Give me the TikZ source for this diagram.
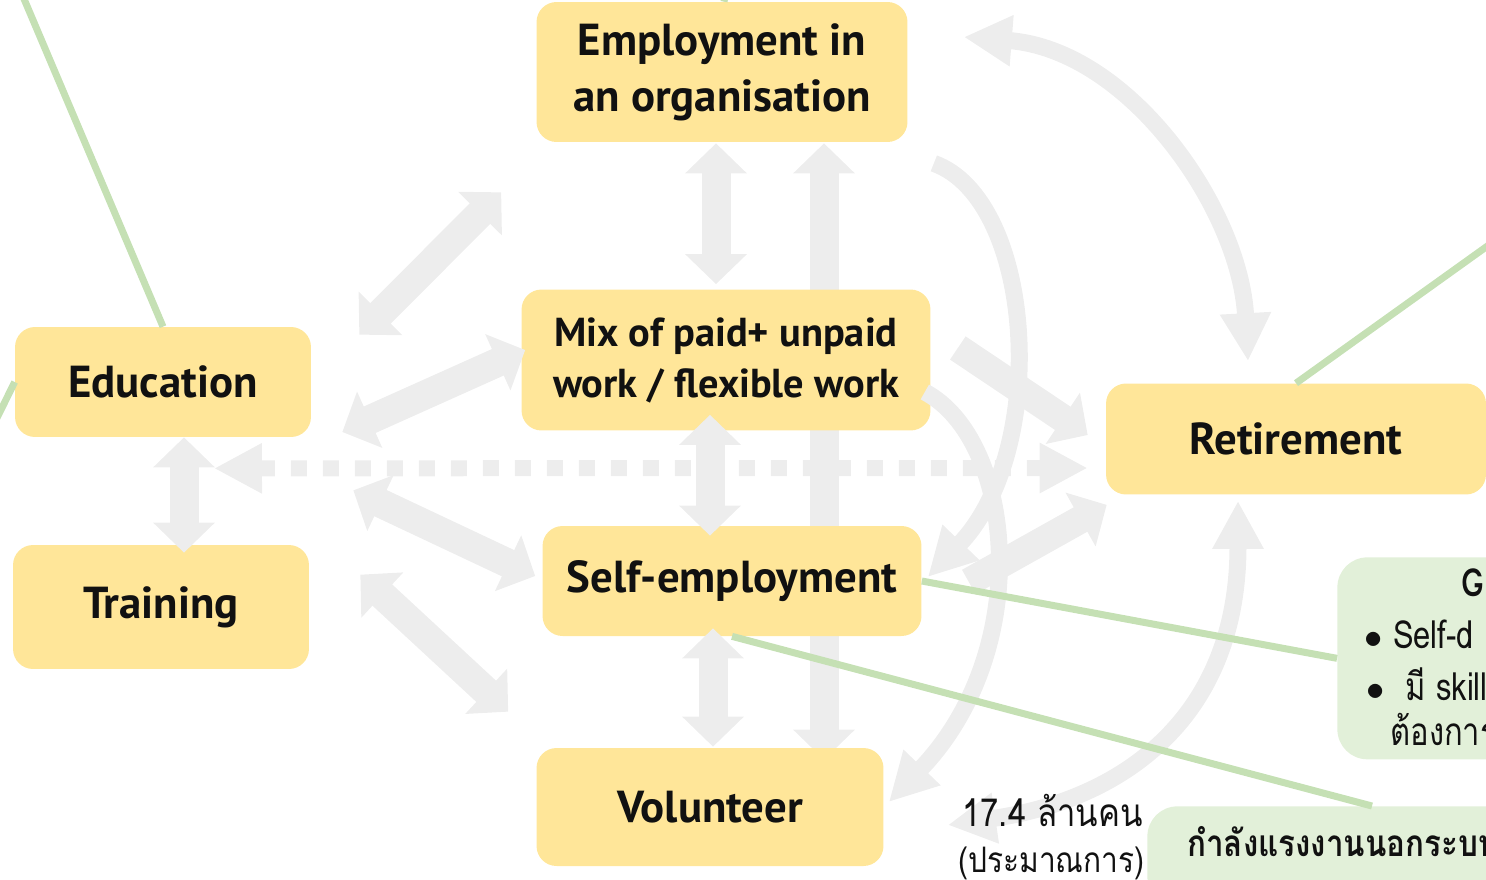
\documentclass[tikz,border=0pt]{standalone}
\usepackage{fontspec}
\setmainfont{PT Sans}
\newfontfamily\thaifont[Script=Thai, FakeStretch=0.85]{Loma}
\newfontfamily\thainote[Script=Thai, FakeStretch=0.8]{Loma}
\usetikzlibrary{arrows.meta,calc,backgrounds}

\definecolor{boxyellow}{HTML}{FFE699}
\definecolor{flowgray}{HTML}{EDEDED}
\definecolor{linkgreen}{HTML}{C5E0B4}
\definecolor{notegreen}{HTML}{E2F0D9}
\definecolor{inkblack}{HTML}{111111}

\tikzset{
  stage/.style={rounded corners=0.4cm, fill=boxyellow, text=inkblack, align=center,
    inner sep=0pt, font=\fontsize{25.5}{32}\selectfont\bfseries},
  note/.style={rounded corners=0.6cm, fill=notegreen, inner sep=0pt},
  notetext/.style={inner sep=0pt, text=inkblack, font=\thainote\fontsize{22}{26}\selectfont},
  blockarrow/.style={draw=flowgray, line width=0.58cm,
    {Triangle[width=1.2cm,length=0.6cm]}-{Triangle[width=1.2cm,length=0.6cm]}},
  blockto/.style={draw=flowgray, line width=0.56cm, -{Triangle[width=1.2cm,length=0.6cm]}},
  bendarrow/.style={draw=flowgray, line width=0.34cm,
    {Triangle[width=0.96cm,length=0.96cm]}-{Triangle[width=0.96cm,length=0.96cm]}},
  bendto/.style={draw=flowgray, line width=0.34cm, -{Triangle[width=0.96cm,length=0.96cm]}},
  dotarrow/.style={draw=flowgray, line width=0.32cm, dash pattern=on 0.32cm off 0.32cm,
    {Triangle[width=0.94cm,length=0.96cm]}-{Triangle[width=0.94cm,length=0.96cm]}},
  link/.style={draw=linkgreen, line width=0.14cm}
}

\begin{document}
\begin{tikzpicture}[x=0.02cm, y=-0.02cm]
    \useasboundingbox (0,0) rectangle (1486,879);
    \clip (0,0) rectangle (1486,879);

    % stages
    \node[stage, minimum width=7.42cm, minimum height=2.80cm] (emp) at (722,72) {Employment in\\an organisation};
    \node[stage, minimum width=8.18cm, minimum height=2.82cm, font=\fontsize{23}{29}\selectfont\bfseries] (mix) at (726,360) {Mix of paid+ unpaid\\work / flexible work};
    \node[stage, minimum width=7.58cm, minimum height=2.20cm] (self) at (732,581) {Self-employment};
    \node[stage, minimum width=6.94cm, minimum height=2.36cm] (vol) at (710,807) {Volunteer};
    \node[stage, minimum width=5.92cm, minimum height=2.20cm] (edu) at (163,382) {Education};
    \node[stage, minimum width=5.92cm, minimum height=2.48cm] (train) at (161,607) {Training};
    \node[stage, minimum width=7.60cm, minimum height=2.22cm] (retire) at (1296,439) {Retirement};

    \node[note, minimum width=5.6cm, minimum height=4.04cm, anchor=north west] (gone) at (1337,557) {};
    \node[note, minimum width=8.0cm, minimum height=2.0cm, anchor=north west] (gtwo) at (1147,806) {};

    \begin{scope}[on background layer]
        \draw[blockarrow] ($(emp.south)+(102,1)$) -- ($(vol.north)+(114,12)$);
    \end{scope}

    % two-way arrows
    \draw[blockarrow] ($(emp.south)+(-6,1)$) -- ($(mix.north)+(-10,-5)$);
    \draw[blockarrow] ($(mix.south)+(-16,-16)$) -- ($(self.north)+(-22,10)$);
    \draw[blockarrow] ($(self.south)+(-19,-8)$) -- ($(vol.north)+(3,-1)$);
    \draw[blockarrow] ($(edu.south)+(21,0)$) -- ($(train.north)+(23,8)$);
    \draw[blockarrow] ($(edu.north east)+(48,8)$) -- ($(emp.south west)+(-35,50)$);
    \draw[blockarrow] ($(edu.east)+(31,50)$) -- ($(mix.west)+(4,-10)$);
    \draw[blockarrow] ($(edu.south east)+(42,53)$) -- ($(self.west)+(-7,-5)$);
    \draw[blockarrow] ($(train.north east)+(51,30)$) -- ($(vol.north west)+(-28,-36)$);

    \draw[dotarrow] ($(edu.south)+(51,31)$) -- ($(retire.west)+(-18,29)$);

    % into retirement
    \draw[blockto] ($(mix.east)+(27,-12)$) -- ($(retire.west)+(-18,-4)$);
    \draw[blockto] ($(self.east)+(47,1)$) -- ($(retire.south west)+(1,10)$);

    % curved arrows
    \draw[bendto] ($(emp.south east)+(26,21)$) .. controls (1035,200) and (1050,450) .. ($(self.east)+(6,-4)$);
    \draw[bendto] ($(mix.east)+(-6,32)$) .. controls (1015,440) and (1035,650) .. ($(vol.east)+(5,-5)$);
    \draw[bendarrow] ($(emp.east)+(56,-35)$) .. controls (1130,50) and (1240,210) .. ($(retire.north)+(-48,-22)$);
    \draw[bendarrow] ($(retire.south)+(-58,6)$) .. controls (1238,720) and (1120,800) .. ($(vol.east)+(64,18)$);

    % green links
    \coordinate (eduup) at (16,-20);
    \coordinate (eduleft) at (-6,424);
    \coordinate (retireup) at (1500,237);
    \coordinate (empup) at (728,-20);
    \draw[link] (edu.north) -- (eduup);
    \draw[link] (edu.west) -- (eduleft);
    \draw[link] (retire.north) -- (retireup);
    \draw[link] ($(emp.north)+(2,0)$) -- (empup);
    \draw[link] (self.east) -- (gone.west);
    \draw[link] (self.south) -- ($(gtwo.north west)+(225,0)$);

    % notes
    \node[notetext, anchor=base west] (gtitle) at (1461,596) {\bfseries G};
    \node[notetext, anchor=base west] (gself) at (1364,648) {$\bullet$ Self-d};
    \node[notetext, anchor=base west] (gskill) at (1366,700) {$\bullet$\ \ มี skill};
    \node[notetext, anchor=base west] (gneed) at (1390,745) {ต้องการ};
    \node[notetext, anchor=base west, font=\thaifont\fontsize{21}{26}\selectfont\bfseries] (gtwotext) at (1187,856) {กำลังแรงงานนอกระบบ};
    \node[notetext, anchor=base west, font=\thaifont\fontsize{22}{26}\selectfont] (count) at (962,826) {17.4 ล้านคน};
    \node[notetext, anchor=base west, font=\thaifont\fontsize{20}{26}\selectfont] (countnote) at (958,872) {(ประมาณการ)};
\end{tikzpicture}
\end{document}
